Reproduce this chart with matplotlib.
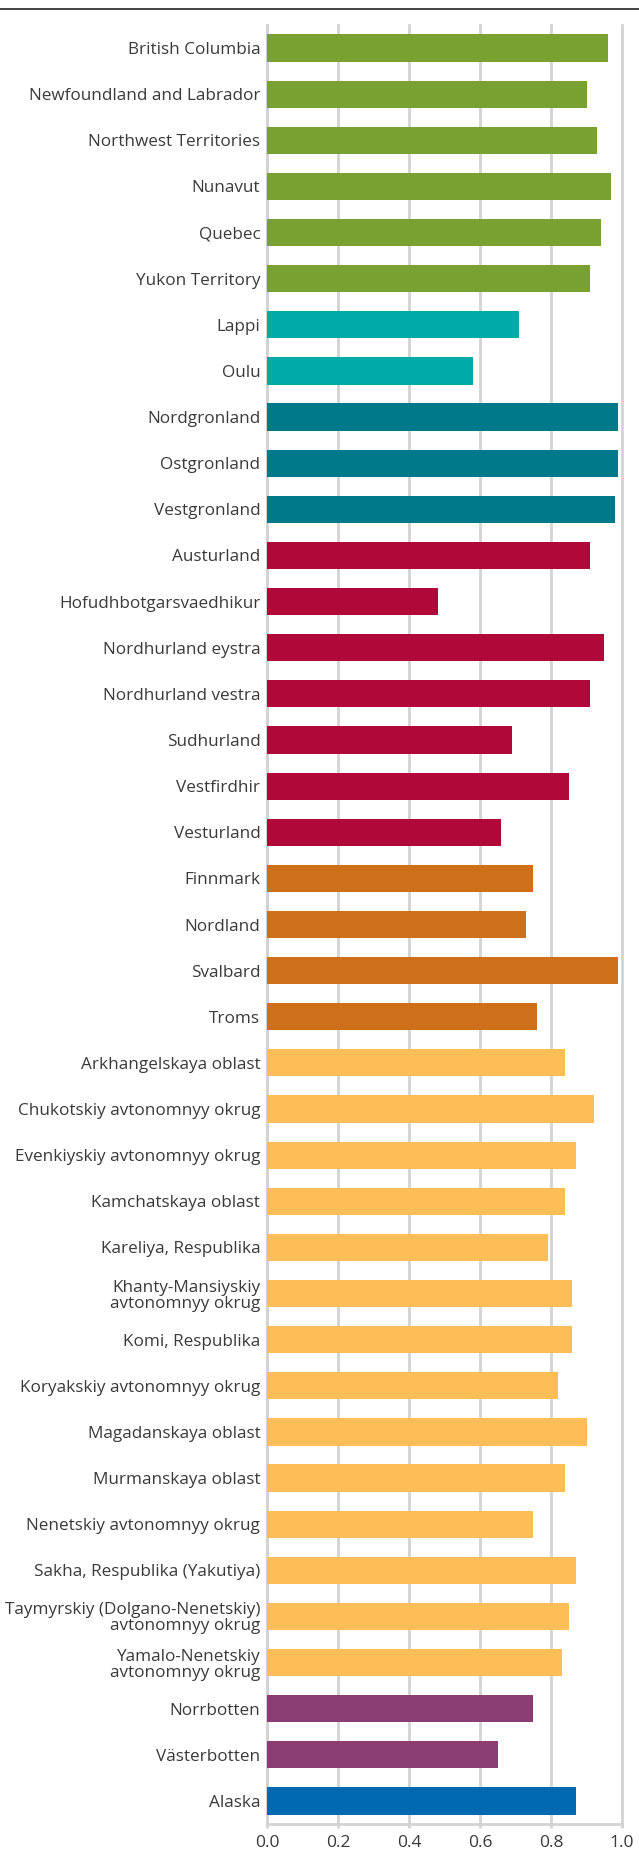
import numpy as np
import matplotlib.pyplot as plt
from matplotlib.lines import Line2D

regions = [
    "British Columbia", "Newfoundland and Labrador", "Northwest Territories",
    "Nunavut", "Quebec", "Yukon Territory",
    "Lappi", "Oulu",
    "Nordgronland", "Ostgronland", "Vestgronland",
    "Austurland", "Hofudhbotgarsvaedhikur", "Nordhurland eystra",
    "Nordhurland vestra", "Sudhurland", "Vestfirdhir", "Vesturland",
    "Finnmark", "Nordland", "Svalbard", "Troms",
    "Arkhangelskaya oblast", "Chukotskiy avtonomnyy okrug",
    "Evenkiyskiy avtonomnyy okrug", "Kamchatskaya oblast",
    "Kareliya, Respublika", "Khanty-Mansiyskiy\navtonomnyy okrug",
    "Komi, Respublika", "Koryakskiy avtonomnyy okrug",
    "Magadanskaya oblast", "Murmanskaya oblast",
    "Nenetskiy avtonomnyy okrug", "Sakha, Respublika (Yakutiya)",
    "Taymyrskiy (Dolgano-Nenetskiy)\navtonomnyy okrug",
    "Yamalo-Nenetskiy\navtonomnyy okrug",
    "Norrbotten", "Västerbotten",
    "Alaska",
]
values = [
    0.96, 0.90, 0.93, 0.97, 0.94, 0.91,
    0.71, 0.58,
    0.99, 0.99, 0.98,
    0.91, 0.48, 0.95, 0.91, 0.69, 0.85, 0.66,
    0.75, 0.73, 0.99, 0.76,
    0.84, 0.92, 0.87, 0.84, 0.79, 0.86, 0.86, 0.82, 0.90, 0.84, 0.75, 0.87,
    0.85, 0.83,
    0.75, 0.65,
    0.87,
]
# country group of each region, drives the bar colour
groups = (["Canada"] * 6 + ["Finland"] * 2 + ["Greenland"] * 3 + ["Iceland"] * 7
          + ["Norway"] * 4 + ["Russia"] * 14 + ["Sweden"] * 2 + ["USA"])
group_colors = {
    "Canada": "#78A132", "Finland": "#00AAA6", "Greenland": "#007A8A",
    "Iceland": "#B1083A", "Norway": "#CE6F1A", "Russia": "#FDBD57",
    "Sweden": "#8B3C72", "USA": "#0069B0",
}
xticks = [0.0, 0.2, 0.4, 0.6, 0.8, 1.0]

plt.rcParams['font.family'] = ['Open Sans', 'DejaVu Sans']
text_color = '#3a3a3a'
grid_color = '#d3d3d3'

fig = plt.figure(figsize=(6.39, 18.51), dpi=100)
ax = fig.add_axes([267.3 / 639, 27 / 1851, (622 - 267.3) / 639, (1824 - 25) / 1851])

y = np.arange(len(regions))
ax.barh(y, values, height=0.59, color=[group_colors[g] for g in groups], zorder=3)

ax.set_ylim(len(regions) - 0.5, -0.5)
ax.set_xlim(0, 1.0)
ax.set_yticks(y)
ax.set_yticklabels(regions, fontsize=12.3, color=text_color, linespacing=1.0)
ax.set_xticks(xticks)
ax.set_xticklabels([f"{t:.1f}" for t in xticks], fontsize=12.5, color=text_color)

ax.tick_params(axis='y', length=0, pad=5)
ax.tick_params(axis='x', length=3, width=2, color=grid_color, pad=5)
ax.xaxis.grid(True, color=grid_color, linewidth=2, zorder=0)
for t in ax.xaxis.get_gridlines():
    t.set_clip_on(False)
for side in ['top', 'right']:
    ax.spines[side].set_visible(False)
for side in ['left', 'bottom']:
    ax.spines[side].set_color(grid_color)
    ax.spines[side].set_linewidth(2)

# rule across the top of the figure
fig.add_artist(Line2D([0, 1], [1 - 9 / 1851] * 2, color='#222222', linewidth=1.2,
                      transform=fig.transFigure))

fig.savefig('out.png', dpi=100)
